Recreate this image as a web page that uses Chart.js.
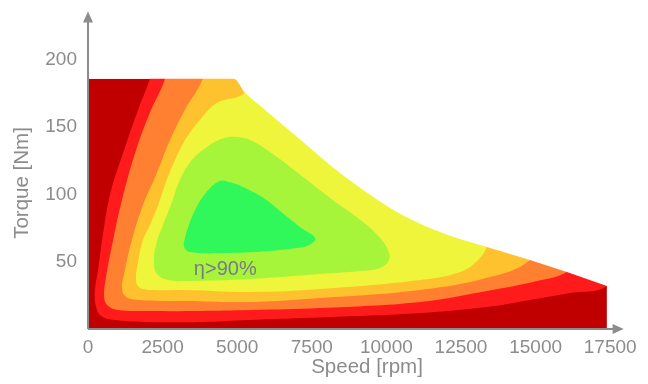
<!DOCTYPE html>
<html lang="en">
<head>
<meta charset="UTF-8">
<title>Efficiency map</title>
<script src="https://cdn.jsdelivr.net/npm/chart.js"></script>
<style>
    body { margin: 0; background: #fff; }
    .box { width: 648px; height: 384px; }
</style>
</head>
<body>
<div class="box"><canvas id="mapa"></canvas></div>
<script>
// axis ticks
const speedTicks = [0, 2500, 5000, 7500, 10000, 12500, 15000, 17500];
const torqueTicks = [50, 100, 150, 200];

// max torque curve (operating envelope)
const envSpeed = [0, 4890, 5260, 5860, 7000, 8110, 9220, 10350, 11460, 12570, 13370, 14810, 16050, 17390];
const envTorque = [186, 186, 175.5, 164.3, 142.8, 121.9, 103.3, 87, 75.1, 66.2, 61, 51.3, 42.4, 32];

// efficiency bands (outer ones run past the envelope and get masked)
const redSpeed = [2410, 2080, 1680, 1210, 740, 500, 340, 230, 270, 440, 900, 2080, 3750, 5430, 8110, 11130, 13370, 14810, 16150, 17390, 18300, 18300, 2410];
const redTorque = [210, 186, 163, 133, 100, 70, 44, 27.5, 16.5, 9.7, 6.7, 5.2, 5.2, 6.7, 8.9, 11.9, 16.4, 21.6, 26.8, 32, 60, 210, 210];

const orangeSpeed = [2800, 2580, 2080, 1610, 1140, 840, 600, 540, 640, 1000, 2080, 3750, 5430, 7770, 11130, 13370, 15050, 16050, 17160, 18300, 18300, 2800];
const orangeTorque = [210, 186, 161, 133, 96, 66, 38, 24.5, 17.8, 14.1, 13.4, 13.4, 14.1, 15.6, 20.1, 28.3, 35.7, 42.4, 62, 133, 210, 210];

const amberSpeed = [4100, 3850, 3250, 2750, 2280, 1840, 1470, 1240, 1140, 1270, 1740, 3250, 5430, 7770, 11130, 13370, 14810, 15650, 17160, 17160, 4100];
const amberTorque = [210, 186, 163, 140.5, 114.5, 92, 66, 44, 30.5, 24, 21.6, 20.8, 20.1, 23, 29, 38, 51.3, 80, 133, 210, 210];

const yellowSpeed = [5760, 5260, 4320, 3750, 3320, 2920, 2580, 2350, 2080, 1840, 1680, 1610, 1740, 2250, 3250, 5430, 7770, 11130, 12470, 13070, 13370, 13800, 11130, 7100, 5760];
const yellowTorque = [205, 176, 168, 155.4, 142.8, 125.7, 107, 92, 77.3, 66, 50, 36.4, 30.5, 29, 29, 27.5, 29.7, 36.4, 42.4, 51.3, 61.7, 96, 155, 205, 205];

const limeSpeed = [4930, 5430, 6100, 7000, 8110, 9220, 9790, 10050, 10090, 9790, 9110, 7770, 5430, 3250, 2680, 2310, 2210, 2280, 2510, 2780, 3080, 3490, 3990, 4490, 4930, 5430];
const limeTorque = [142.8, 140.5, 131.6, 116.7, 97.4, 79.6, 67.7, 58.7, 51.3, 45.4, 43.1, 40.9, 37.2, 35.7, 36.4, 40.9, 49.8, 62.5, 77.3, 92.2, 110.8, 125.7, 135.3, 141.3, 142.8, 140.5];

const greenSpeed = [4420, 4830, 5330, 5930, 6600, 7200, 7610, 7470, 7000, 5530, 4420, 3420, 3220, 3250, 3380, 3590, 3920, 4420, 4830];
const greenTorque = [110, 108.6, 104.1, 96.7, 84.8, 74.3, 67.7, 63.2, 60.2, 57.2, 56.5, 57.2, 61, 67.7, 77.3, 88.5, 100.4, 110, 108.6];

// blank strip right of the last speed point (overlaps the envelope mask a bit)
const edgeSpeed = [17250, 17390, 17390, 18700];
const edgeTorque = [60, 32, 0, 0];

const etaText = 'η>90%';
const etaSpeed = 4600;
const etaTorque = 44.6;

const arrowSpeed = 17950;
const arrowTorque = 236;

const cinza = '#8c8c8c';

function pts(xs, ys) {
    return xs.map((v, i) => ({ x: v, y: ys[i] }));
}

function camada(xs, ys, cor, fill, extra) {
    return Object.assign({
        data: pts(xs, ys),
        backgroundColor: cor,
        borderWidth: 0,
        pointRadius: 0,
        fill: fill,
        tension: 0.4
    }, extra || {});
}

const monotone = { tension: 0, cubicInterpolationMode: 'monotone' };

const datasets = [
    camada(envSpeed, envTorque, '#c00000', 'origin', monotone),
    camada(redSpeed, redTorque, '#ff1b1b', 'shape'),
    camada(orangeSpeed, orangeTorque, '#ff8030', 'shape'),
    camada(amberSpeed, amberTorque, '#ffc22f', 'shape'),
    camada(yellowSpeed, yellowTorque, '#eff53a', 'shape'),
    camada(limeSpeed, limeTorque, '#a6f53a', 'shape'),
    camada(greenSpeed, greenTorque, '#31f85a', 'shape'),
    camada(envSpeed, envTorque, '#ffffff', 'end', monotone),
    camada(edgeSpeed, edgeTorque, '#ffffff', 'end', { tension: 0 })
];
datasets.forEach((d, i) => { d.order = datasets.length - i; });

// axis lines with arrow heads + the eta label
const eixos = {
    id: 'eixos',
    afterDatasetsDraw(chart) {
        const { ctx, scales: { x, y } } = chart;
        const x0 = x.getPixelForValue(0);
        const y0 = y.getPixelForValue(0);
        const xt = x.getPixelForValue(arrowSpeed);
        const yt = y.getPixelForValue(arrowTorque);
        ctx.save();
        ctx.strokeStyle = cinza;
        ctx.fillStyle = cinza;
        ctx.lineWidth = 2;
        ctx.beginPath();
        ctx.moveTo(x0, y0);
        ctx.lineTo(x0, yt + 8);
        ctx.moveTo(x0, y0);
        ctx.lineTo(xt - 8, y0);
        ctx.stroke();
        ctx.beginPath();
        ctx.moveTo(x0, yt);
        ctx.lineTo(x0 - 5, yt + 11);
        ctx.lineTo(x0 + 5, yt + 11);
        ctx.closePath();
        ctx.fill();
        ctx.beginPath();
        ctx.moveTo(xt, y0);
        ctx.lineTo(xt - 11, y0 - 5);
        ctx.lineTo(xt - 11, y0 + 5);
        ctx.closePath();
        ctx.fill();

        ctx.font = '20px "Liberation Sans", Arial, sans-serif';
        ctx.fillStyle = '#7a7a8a';
        ctx.textAlign = 'center';
        ctx.textBaseline = 'middle';
        ctx.fillText(etaText, x.getPixelForValue(etaSpeed), y.getPixelForValue(etaTorque));
        ctx.restore();
    }
};

const fonte = { family: '"Liberation Sans", Arial, sans-serif', size: 19 };
const fonteTitulo = { family: '"Liberation Sans", Arial, sans-serif', size: 20.5 };

new Chart(document.getElementById('mapa'), {
    type: 'line',
    data: { datasets: datasets },
    options: {
        responsive: true,
        maintainAspectRatio: false,
        animation: false,
        layout: { padding: { top: 37, right: 2, left: 0, bottom: 0 } },
        plugins: { legend: { display: false }, tooltip: { enabled: false } },
        scales: {
            x: {
                type: 'linear',
                min: 0,
                max: 18700,
                grid: { display: false, drawTicks: false },
                border: { display: false },
                afterBuildTicks: s => { s.ticks = speedTicks.map(v => ({ value: v })); },
                afterFit: s => { s.height = 55; },
                ticks: { color: cinza, font: fonte, padding: 7, maxRotation: 0, autoSkip: false, callback: v => String(v) },
                title: { display: true, text: 'Speed [rpm]', color: cinza, font: fonteTitulo, padding: { bottom: 4, top: 0 } }
            },
            y: {
                type: 'linear',
                min: 0,
                max: 217,
                grid: { display: false, drawTicks: false },
                border: { display: false },
                afterBuildTicks: s => { s.ticks = torqueTicks.map(v => ({ value: v })); },
                afterFit: s => { s.width = 88; },
                ticks: { color: cinza, font: fonte, padding: 11, autoSkip: false, callback: v => String(v) },
                title: { display: true, text: 'Torque [Nm]', color: cinza, font: fonteTitulo, padding: { top: 10, bottom: 0 } }
            }
        }
    },
    plugins: [eixos]
});
</script>
</body>
</html>
